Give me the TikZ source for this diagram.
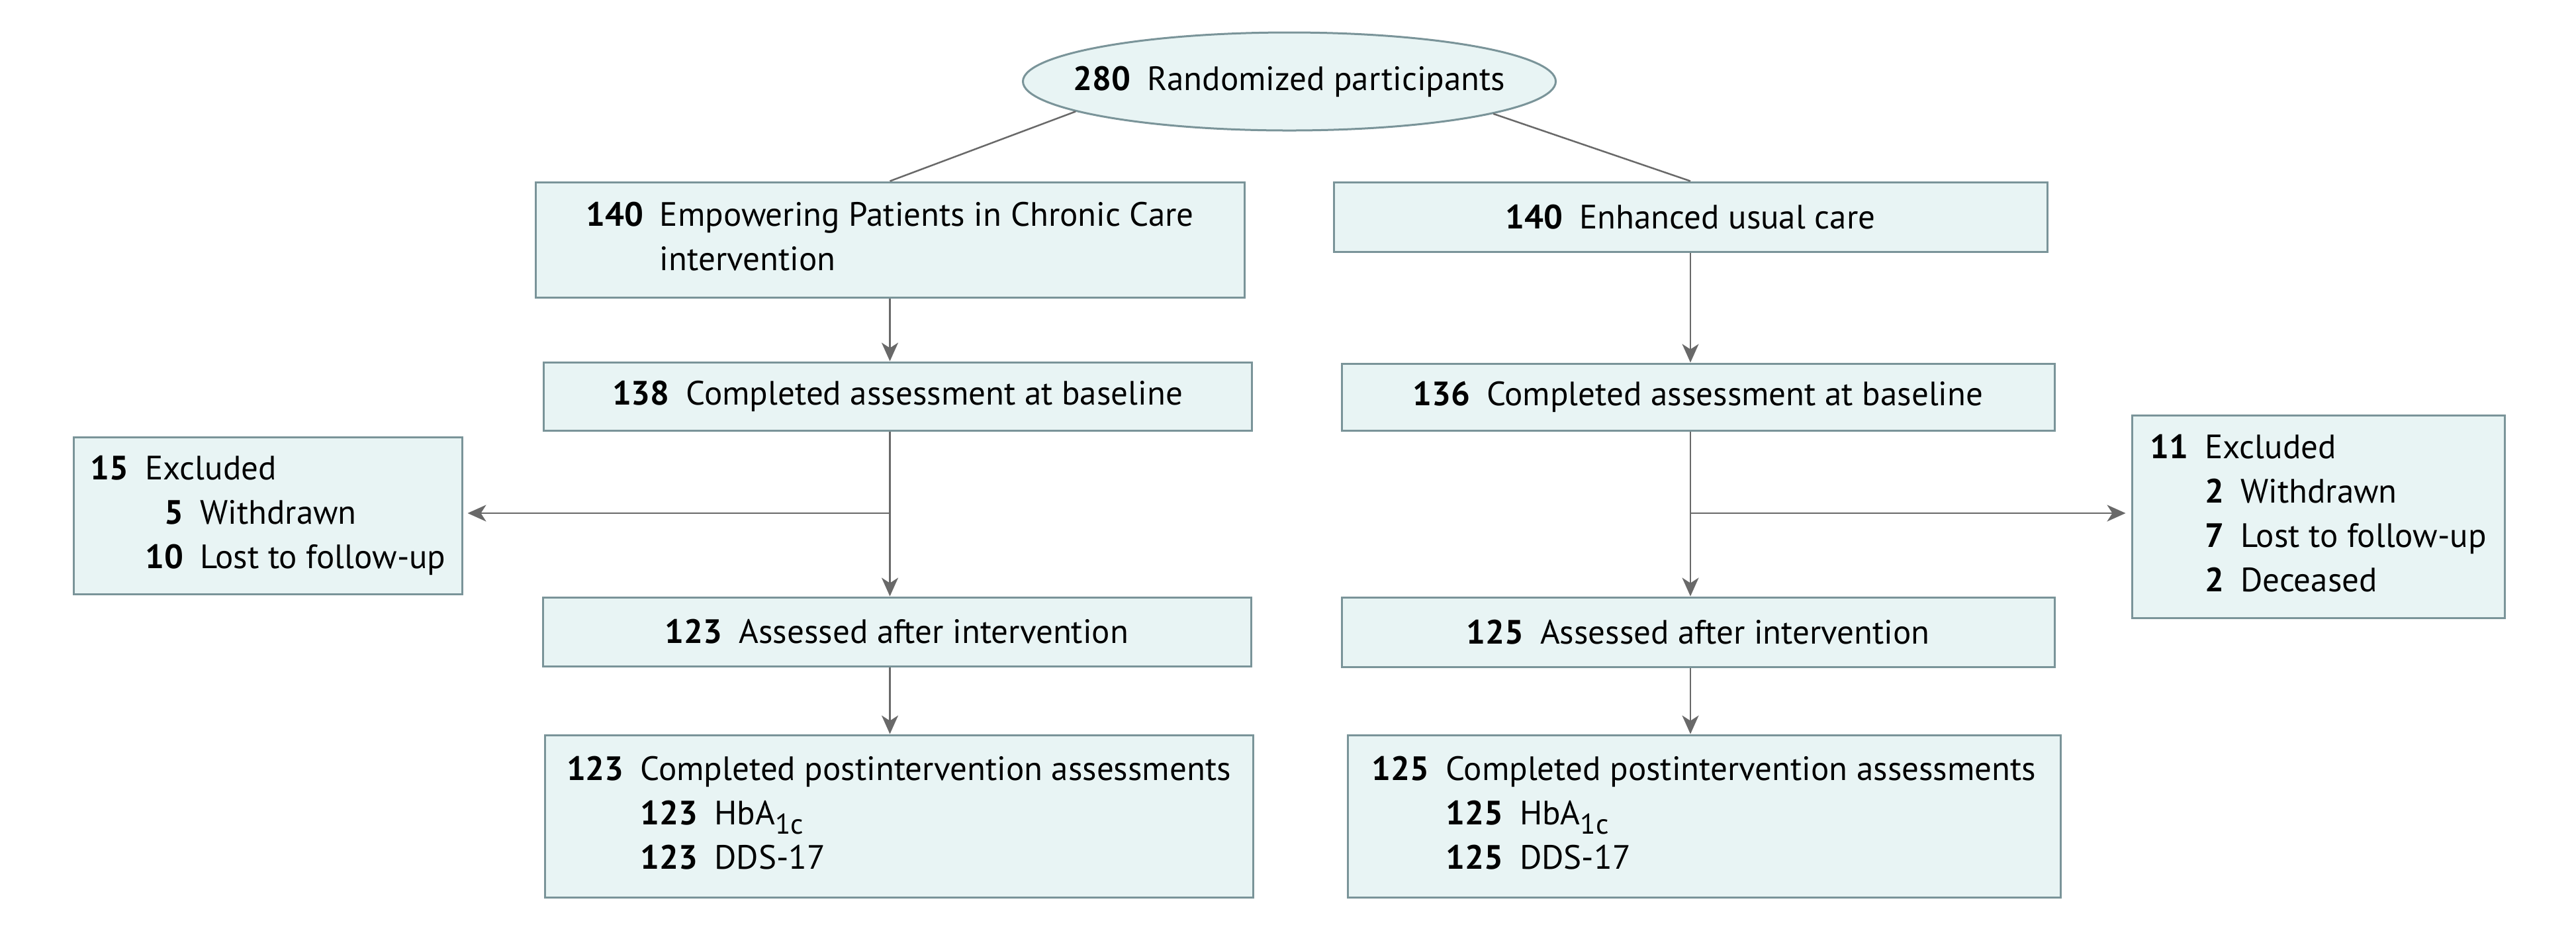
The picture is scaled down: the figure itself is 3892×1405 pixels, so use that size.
\documentclass[tikz,border=0pt]{standalone}
\usepackage{fontspec}
\setmainfont{PT Sans}
\usetikzlibrary{shapes.geometric,arrows.meta,calc}
\definecolor{boxfill}{RGB}{232,244,244}
\definecolor{boxdraw}{RGB}{122,148,153}
\definecolor{arrcol}{RGB}{105,105,105}
\newcommand\numb[1]{\textbf{#1}\hspace{5pt}}
\newcommand\hbsub{HbA\raisebox{-2.8pt}{\fontsize{8.6}{10}\selectfont 1c}}
\begin{document}
\begin{tikzpicture}[x=0.2pt,y=-0.2pt,
  font=\fontsize{10.2}{13.4}\selectfont,
  box/.style={draw=boxdraw, fill=boxfill, line width=0.6pt, inner sep=0pt, align=center},
  oval/.style={ellipse, draw=boxdraw, fill=boxfill, line width=0.6pt, inner sep=0pt},
  conn/.style={draw=arrcol, line width=0.5pt},
  arr/.style={conn, -{Stealth[length=5.6pt,width=5pt,inset=1.6pt]}}]
\useasboundingbox (0,0) rectangle (3892,1405);

\node[oval, minimum width=161pt, minimum height=29.6pt] (E) at (1948,123) {\makebox[0pt]{\numb{280}Randomized participants}};

\node[box, minimum width=214.2pt, minimum height=34.8pt] (L1) at (1344.5,362)
  {\begin{tabular}{@{}l@{\hspace{5pt}}l@{}}\textbf{140} & Empowering Patients in Chronic Care\\ & intervention\end{tabular}};
\node[box, minimum width=215.6pt, minimum height=21pt] (R1) at (2554,327.5) {\numb{140}Enhanced usual care};

\node[box, minimum width=214pt, minimum height=20.6pt] (L2) at (1356,598.5) {\numb{138}Completed assessment at baseline};
\node[box, minimum width=215.4pt, minimum height=20.2pt] (R2) at (2565.5,599.5) {\numb{136}Completed assessment at baseline};

\node[box, minimum width=214pt, minimum height=20.8pt] (L3) at (1355,954) {\numb{123}Assessed after intervention};
\node[box, minimum width=215.4pt, minimum height=21pt] (R3) at (2565.5,954.5) {\numb{125}Assessed after intervention};

\node[box, minimum width=214pt, minimum height=49pt] (L4) at (1358,1232.5)
  {\begin{tabular}{@{}l@{\hspace{5pt}}l@{\hspace{5pt}}l@{}}\textbf{123} & \multicolumn{2}{@{}l@{}}{Completed postintervention assessments}\\
   & \textbf{123} & \hbsub\\
   & \textbf{123} & DDS-17\end{tabular}};
\node[box, minimum width=215.4pt, minimum height=49pt] (R4) at (2574.5,1232.5)
  {\begin{tabular}{@{}l@{\hspace{5pt}}l@{\hspace{5pt}}l@{}}\textbf{125} & \multicolumn{2}{@{}l@{}}{Completed postintervention assessments}\\
   & \textbf{125} & \hbsub\\
   & \textbf{125} & DDS-17\end{tabular}};

\node[box, minimum width=117.2pt, minimum height=47.4pt] (LX) at (405,778.5)
  {\begin{tabular}{@{}l@{\hspace{5pt}}r@{\hspace{5pt}}l@{}}\textbf{15} & \multicolumn{2}{@{}l@{}}{Excluded}\\
   & \textbf{5} & Withdrawn\\
   & \textbf{10} & Lost to follow-up\end{tabular}};
\node[box, minimum width=112.6pt, minimum height=61.2pt] (RX) at (3502.5,780)
  {\begin{tabular}{@{}l@{\hspace{5pt}}r@{\hspace{5pt}}l@{}}\textbf{11} & \multicolumn{2}{@{}l@{}}{Excluded}\\
   & \textbf{2} & Withdrawn\\
   & \textbf{7} & Lost to follow-up\\
   & \textbf{2} & Deceased\end{tabular}};

\draw[conn] (E.188) -- (L1.north);
\draw[conn] (E.351) -- (R1.north);

\draw[arr] (L1.south) -- (L1.south |- L2.north);
\draw[arr] (L1.south |- L2.south) -- (L1.south |- L3.north);
\draw[arr] (L1.south |- L3.south) -- (L1.south |- L4.north);
\coordinate (LB) at ($(L1.south |- LX.east)+(0,-3.5)$);
\draw[arr, shorten >=1.4pt] (LB) -- (LB -| LX.east);

\draw[arr] (R1.south) -- (R1.south |- R2.north);
\draw[arr] (R1.south |- R2.south) -- (R1.south |- R3.north);
\draw[arr] (R1.south |- R3.south) -- (R1.south |- R4.north);
\coordinate (RB) at ($(R1.south |- RX.west)+(0,-5)$);
\draw[arr, shorten >=1.6pt] (RB) -- (RB -| RX.west);
\end{tikzpicture}
\end{document}
